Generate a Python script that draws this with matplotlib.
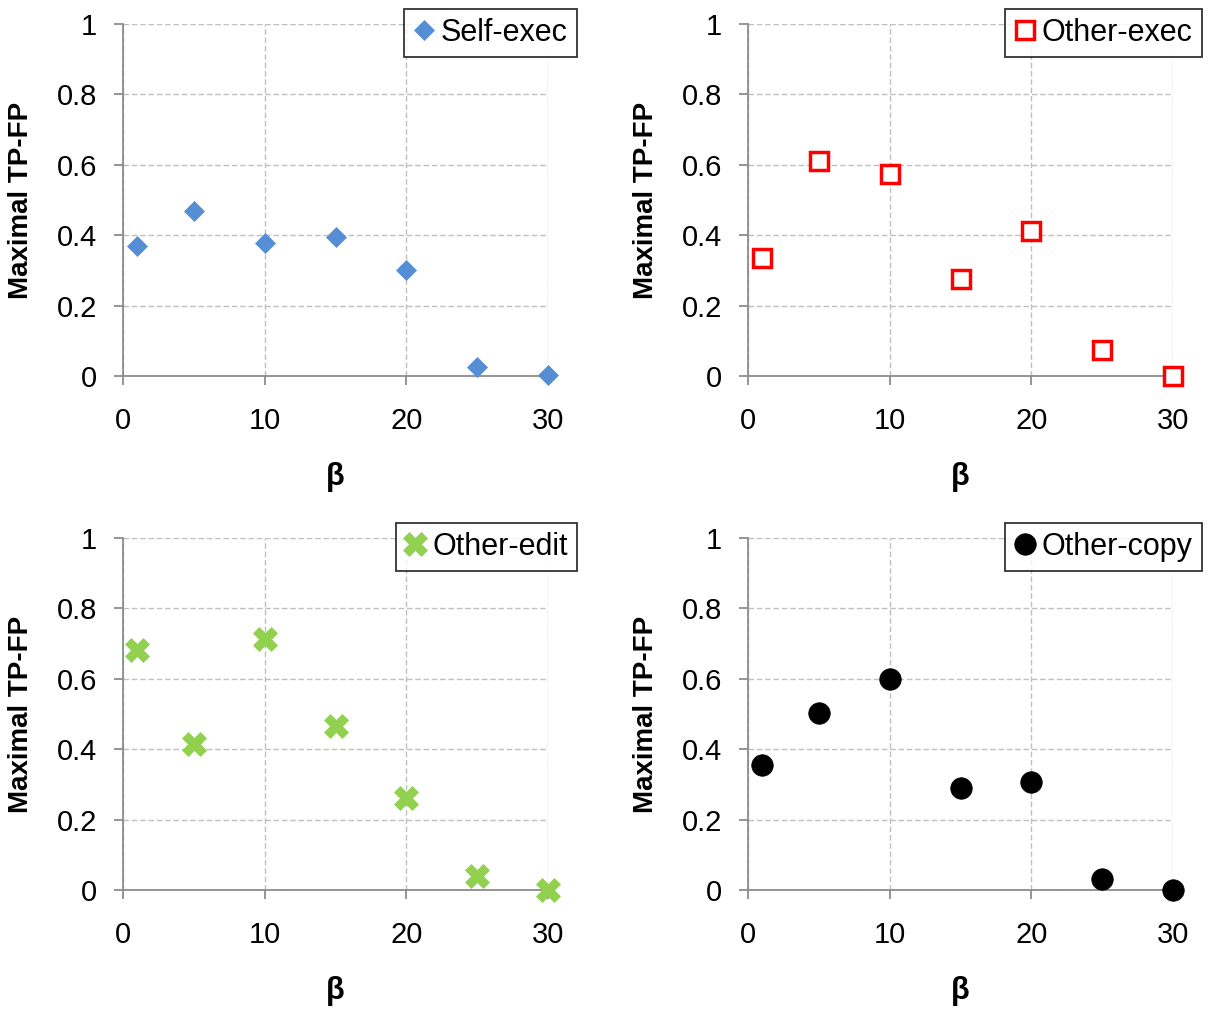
#!/usr/bin/env python3
"""
Maximal TP-FP versus beta, one panel per scenario (2x2 grid).
Saves out.png.
"""
import matplotlib
matplotlib.use("Agg")
import matplotlib.pyplot as plt

plt.rcParams["font.family"] = ["Liberation Sans", "DejaVu Sans"]

# beta values shared by all panels
beta = [1, 5, 10, 15, 20, 25, 30]

# maximal TP-FP per scenario
self_exec = [0.369, 0.470, 0.378, 0.395, 0.300, 0.026, 0.003]
other_exec = [0.336, 0.610, 0.574, 0.276, 0.411, 0.073, 0.000]
other_edit = [0.682, 0.416, 0.714, 0.465, 0.260, 0.041, 0.000]
other_copy = [0.355, 0.503, 0.600, 0.291, 0.307, 0.031, 0.000]

x_ticks = [0, 10, 20, 30]
y_ticks = [0, 0.2, 0.4, 0.6, 0.8, 1.0]
y_tick_labels = ["0", "0.2", "0.4", "0.6", "0.8", "1"]

panels = [
    # name, values, marker style
    ("Self-exec", self_exec,
     dict(marker="D", ms=10.5, mfc="#558ED5", mec="#558ED5", mew=0.5)),
    ("Other-exec", other_exec,
     dict(marker="s", ms=12.5, mfc="white", mec="#FF0000", mew=2.5)),
    ("Other-edit", other_edit,
     dict(marker="X", ms=17, mfc="#92D050", mec="#92D050", mew=0.5)),
    ("Other-copy", other_copy,
     dict(marker="o", ms=15.5, mfc="black", mec="black", mew=0.5)),
]

# axes rectangles in figure fractions (left, bottom, width, height)
W, H = 1209, 1014
lefts = [123 / W, 748 / W]
bottoms = [1 - 376 / H, 1 - 890 / H]
aw, ah = 425 / W, 352 / H

fig = plt.figure(figsize=(W / 100, H / 100), dpi=100)

for i, (name, vals, style) in enumerate(panels):
    row, col = divmod(i, 2)
    ax = fig.add_axes([lefts[col], bottoms[row], aw, ah])

    ax.plot(beta, vals, linestyle="none", label=name, clip_on=False,
            zorder=5, **style)

    ax.set_xlim(0, 30)
    ax.set_ylim(0, 1)
    ax.set_xticks(x_ticks)
    ax.set_yticks(y_ticks)
    ax.set_yticklabels(y_tick_labels)

    ax.grid(True, linestyle=(0, (4, 2)), color="#BFBFBF", linewidth=1.0)
    ax.set_axisbelow(True)

    for s in ("top", "right"):
        ax.spines[s].set_visible(False)
    for s in ("left", "bottom"):
        ax.spines[s].set_color("#8C8C8C")
        ax.spines[s].set_linewidth(1.3)

    ax.tick_params(axis="both", direction="out", length=6.5, width=1.3,
                   color="#8C8C8C", labelsize=21, labelcolor="black")
    ax.tick_params(axis="x", pad=16)
    ax.tick_params(axis="y", pad=12)

    ax.set_ylabel("Maximal TP-FP", fontsize=20, fontweight="bold",
                  va="center")
    ax.yaxis.set_label_coords(-0.24, 0.5)
    ax.set_xlabel("\u03b2", fontsize=22, fontweight="bold", va="center")
    ax.xaxis.set_label_coords(0.5, -0.286)

    leg = ax.legend(loc="upper right", bbox_to_anchor=(1.068, 1.044),
                    fontsize=22, frameon=True, fancybox=False,
                    handlelength=0.7, handletextpad=0.2, borderpad=0.3,
                    borderaxespad=0.0)
    leg.get_frame().set_edgecolor("black")
    leg.get_frame().set_linewidth(1.3)

fig.savefig("out.png", dpi=100)
